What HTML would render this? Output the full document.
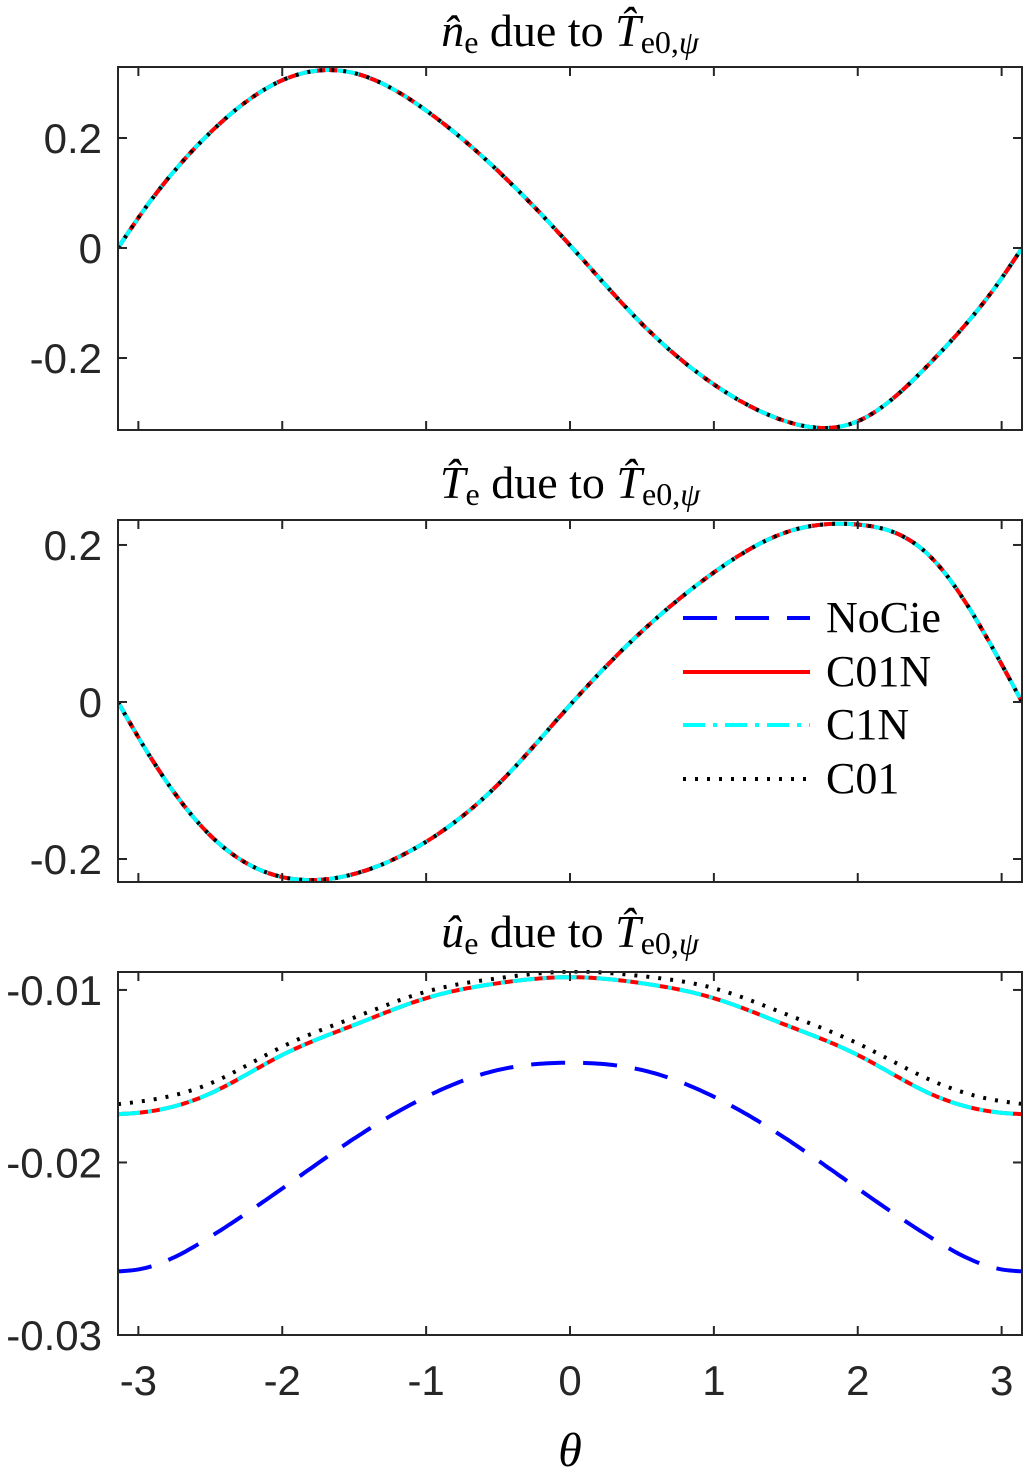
<!DOCTYPE html>
<html><head><meta charset="utf-8">
<style>
html,body{margin:0;padding:0;background:#fff;}
svg{display:block;}
.tk{font-family:"Liberation Sans",sans-serif;font-size:42px;fill:#262626;}
.ti{font-family:"Liberation Serif",serif;font-size:46px;fill:#000;}
.lg{font-family:"Liberation Serif",serif;font-size:44px;fill:#000;}
</style></head>
<body>
<svg id="fig" width="1025" height="1473" viewBox="0 0 1025 1473" xmlns="http://www.w3.org/2000/svg">
<text class="ti" x="570" y="46" text-anchor="middle"><tspan font-style="italic">n̂</tspan><tspan font-size="32" dy="7">e</tspan><tspan dy="-7"> due to </tspan><tspan font-style="italic">T̂</tspan><tspan font-size="32" dy="7">e0,</tspan><tspan font-size="32" font-style="italic">ψ</tspan></text>
<text class="ti" x="570" y="498" text-anchor="middle"><tspan font-style="italic">T̂</tspan><tspan font-size="32" dy="7">e</tspan><tspan dy="-7"> due to </tspan><tspan font-style="italic">T̂</tspan><tspan font-size="32" dy="7">e0,</tspan><tspan font-size="32" font-style="italic">ψ</tspan></text>
<text class="ti" x="570" y="947" text-anchor="middle"><tspan font-style="italic">û</tspan><tspan font-size="32" dy="7">e</tspan><tspan dy="-7"> due to </tspan><tspan font-style="italic">T̂</tspan><tspan font-size="32" dy="7">e0,</tspan><tspan font-size="32" font-style="italic">ψ</tspan></text>
<text x="570" y="1466" text-anchor="middle" font-family="Liberation Serif,serif" font-style="italic" font-size="48">θ</text>
<g id="plots"></g>
<g id="legend">
<line x1="683" y1="618" x2="810" y2="618" stroke="#0000ff" stroke-width="4" stroke-dasharray="34,18"/>
<text class="lg" x="826" y="632">NoCie</text>
<line x1="683" y1="672" x2="810" y2="672" stroke="#ff0000" stroke-width="4"/>
<text class="lg" x="826" y="686">C01N</text>
<line x1="683" y1="725" x2="810" y2="725" stroke="#00ffff" stroke-width="4" stroke-dasharray="22,8,4,8"/>
<text class="lg" x="826" y="739">C1N</text>
<line x1="683" y1="779" x2="810" y2="779" stroke="#000" stroke-width="4" stroke-dasharray="3,9"/>
<text class="lg" x="826" y="793">C01</text>
</g>
</svg>
<script>
const theta = [-3.1416,-3,-2.5,-2,-1.5,-1,-0.5,0,0.5,1,1.5,2,2.5,3,3.1416];
const neVals = [0,0.055,0.21,0.305,0.318,0.25,0.14,0.005,-0.138,-0.248,-0.315,-0.315,-0.21,-0.055,0];
const teVals = [0,-0.045,-0.17,-0.223,-0.219,-0.178,-0.105,-0.004,0.09,0.165,0.216,0.226,0.186,0.048,0];
const ueC1N = [-0.0172,-0.01712,-0.0160,-0.01377,-0.01203,-0.01048,-0.00961,-0.00926,-0.00961,-0.01048,-0.01203,-0.01377,-0.0160,-0.01712,-0.0172];
const ueC01 = [-0.01662,-0.01648,-0.01542,-0.01329,-0.0116,-0.0101,-0.00932,-0.00894,-0.0092,-0.0099,-0.0114,-0.0131,-0.0152,-0.01645,-0.0166];
const ueNoCie = [-0.02631,-0.0262,-0.02431,-0.02151,-0.01861,-0.01619,-0.01464,-0.01422,-0.01464,-0.01619,-0.01861,-0.02151,-0.02431,-0.0262,-0.02631];
const xTicks = [-3,-2,-1,0,1,2,3];
const yTicks1 = [-0.2,0,0.2];
const yTicks2 = [-0.2,0,0.2];
const yTicks3 = [-0.03,-0.02,-0.01];
const yTickLabels3 = ['-0.03','-0.02','-0.01'];

const NS='http://www.w3.org/2000/svg';
const X0=118,X1=1022,XMIN=-Math.PI,XMAX=Math.PI;
const xs=v=>X0+(v-XMIN)/(XMAX-XMIN)*(X1-X0);
const root=document.getElementById('plots');
function mk(tag,attrs,parent){const e=document.createElementNS(NS,tag);for(const k in attrs)e.setAttribute(k,attrs[k]);parent.appendChild(e);return e;}
function natSpline(x,y){
  const n=x.length,h=[],al=[],l=[1],mu=[0],z=[0],c=new Array(n).fill(0),b=[],d=[];
  for(let i=0;i<n-1;i++)h[i]=x[i+1]-x[i];
  for(let i=1;i<n-1;i++)al[i]=3/h[i]*(y[i+1]-y[i])-3/h[i-1]*(y[i]-y[i-1]);
  for(let i=1;i<n-1;i++){l[i]=2*(x[i+1]-x[i-1])-h[i-1]*mu[i-1];mu[i]=h[i]/l[i];z[i]=(al[i]-h[i-1]*z[i-1])/l[i];}
  for(let j=n-2;j>=1;j--){c[j]=z[j]-mu[j]*c[j+1];}
  c[0]=0;c[n-1]=0;
  for(let j=0;j<n-1;j++){b[j]=(y[j+1]-y[j])/h[j]-h[j]*(c[j+1]+2*c[j])/3;d[j]=(c[j+1]-c[j])/(3*h[j]);}
  return t=>{let i=0;while(i<n-2&&t>x[i+1])i++;const dx=t-x[i];return y[i]+b[i]*dx+c[i]*dx*dx+d[i]*dx*dx*dx;};
}
function panel(name,Y0,Y1,ymin,ymax,yt,ytl,series){
  const ys=v=>Y1-(v-ymin)/(ymax-ymin)*(Y1-Y0);
  const g=mk('g',{},root);
  
  
  const cid='clip-'+name;
  const cp=mk('clipPath',{id:cid},g);
  mk('rect',{x:X0,y:Y0-2,width:X1-X0,height:Y1-Y0+4},cp);
  const lines=mk('g',{'clip-path':'url(#'+cid+')'},g);
  series.forEach(s=>{
    const f=natSpline(s.t,s.v);
    const a=s.t[0],bnd=s.t[s.t.length-1];
    let d='';
    for(let k=0;k<=300;k++){const t=a+(bnd-a)*k/300;d+=(k?'L':'M')+xs(t).toFixed(1)+','+ys(f(t)).toFixed(1);}
    const p=mk('path',{d:d,fill:'none',stroke:s.c,'stroke-width':s.w,'stroke-dasharray':s.da||'none'},lines);
    
    
  });
  const ax=mk('rect',{x:X0,y:Y0,width:X1-X0,height:Y1-Y0,fill:'none',stroke:'#262626','stroke-width':2},g);
  
  
  xTicks.forEach(t=>{
    const x=xs(t);
    mk('line',{x1:x,y1:Y1,x2:x,y2:Y1-9,stroke:'#262626','stroke-width':2},g);
    mk('line',{x1:x,y1:Y0,x2:x,y2:Y0+9,stroke:'#262626','stroke-width':2},g);
  });
  yt.forEach((t,i)=>{
    const y=ys(t);
    mk('line',{x1:X0,y1:y,x2:X0+9,y2:y,stroke:'#262626','stroke-width':2},g);
    mk('line',{x1:X1,y1:y,x2:X1-9,y2:y,stroke:'#262626','stroke-width':2},g);
    const tx=mk('text',{x:102,y:y+15,'text-anchor':'end','class':'tk'},g);
    tx.textContent=ytl[i];
    
    
  });
  return g;
}
function four(t,v){return [
  {n:'nocie',t:t,v:v,c:'#0000ff',w:4,da:'34,18'},
  {n:'c01n',t:t,v:v,c:'#ff0000',w:4},
  {n:'c1n',t:t,v:v,c:'#00ffff',w:4,da:'22,8,4,8'},
  {n:'c01',t:t,v:v,c:'#000000',w:4,da:'3,9'}];}
panel('panel-ne',67,430,-0.3309,0.3291,yTicks1,['-0.2','0','0.2'],four(theta,neVals));
panel('panel-te',520,882,-0.2293,0.2318,yTicks2,['-0.2','0','0.2'],four(theta,teVals));
panel('panel-ue',972,1335,-0.03,-0.00896,yTicks3,yTickLabels3,[
  {n:'nocie',t:theta,v:ueNoCie,c:'#0000ff',w:4,da:'34,18'},
  {n:'c01n',t:theta,v:ueC1N,c:'#ff0000',w:4},
  {n:'c1n',t:theta,v:ueC1N,c:'#00ffff',w:4,da:'22,8,4,8'},
  {n:'c01',t:theta,v:ueC01,c:'#000000',w:4,da:'3,9'}]);
xTicks.forEach(t=>{
  const tx=mk('text',{x:xs(t),y:1395,'text-anchor':'middle','class':'tk'},root);
  tx.textContent=String(t);
  
  
});
</script>
</body></html>
